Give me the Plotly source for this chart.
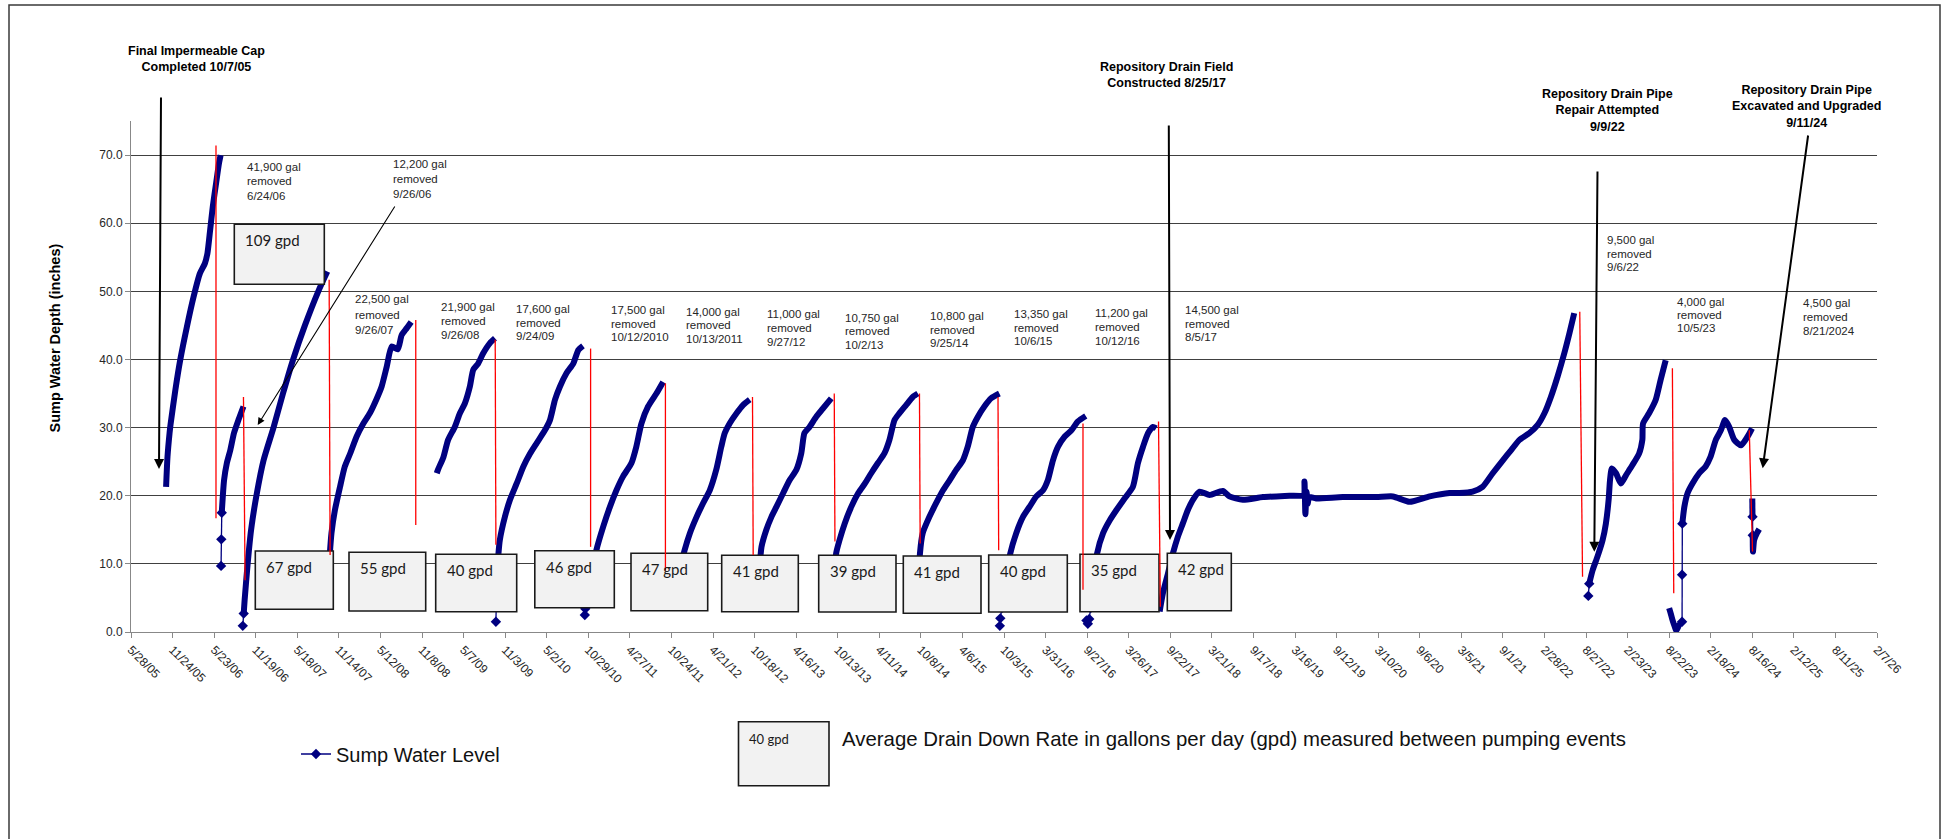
import pandas as pd
import plotly.graph_objects as go

NAVY = "#000080"
ARIAL = "Liberation Sans, Arial, sans-serif"

# ---------------- data ----------------
tick_labels = ["5/28/05", "11/24/05", "5/23/06", "11/19/06", "5/18/07", "11/14/07", "5/12/08",
               "11/8/08", "5/7/09", "11/3/09", "5/2/10", "10/29/10", "4/27/11", "10/24/11",
               "4/21/12", "10/18/12", "4/16/13", "10/13/13", "4/11/14", "10/8/14", "4/6/15",
               "10/3/15", "3/31/16", "9/27/16", "3/26/17", "9/22/17", "3/21/18", "9/17/18",
               "3/16/19", "9/12/19", "3/10/20", "9/6/20", "3/5/21", "9/1/21", "2/28/22",
               "8/27/22", "2/23/23", "8/22/23", "2/18/24", "8/16/24", "2/12/25", "8/11/25", "2/7/26"]

# continuous logger record, one block per fill cycle
c01_dates = ["2005-10-27", "2005-11-02", "2005-11-11", "2005-11-15", "2005-12-06", "2005-12-27",
             "2006-01-25", "2006-02-23", "2006-03-22", "2006-04-13", "2006-04-24", "2006-05-05",
             "2006-05-17", "2006-06-01", "2006-06-13", "2006-06-20"]
c01_vals = [21.3, 25.7, 29.2, 30.4, 35.5, 39.9, 44.8, 49.2, 52.6, 54.1, 55.6, 58.8, 62.4, 66.0, 68.8, 70.0]

c02_dates = ["2006-06-25", "2006-07-05", "2006-07-17", "2006-08-01", "2006-08-17", "2006-09-05", "2006-09-27"]
c02_vals = [17.5, 22.3, 24.8, 26.7, 29.2, 31.1, 33.1]

c03_dates = ["2006-09-28", "2006-10-02", "2006-10-15", "2006-10-30", "2006-11-22", "2006-12-23",
             "2007-02-04", "2007-03-17", "2007-04-30", "2007-06-20", "2007-08-17", "2007-09-25"]
c03_vals = [2.7, 4.7, 10.0, 15.0, 20.0, 25.2, 30.0, 35.0, 40.0, 45.0, 50.0, 52.9]

c04_dates = ["2007-10-06", "2007-10-13", "2007-10-28", "2007-11-19", "2007-12-10", "2008-01-02",
             "2008-01-30", "2008-02-28", "2008-03-27", "2008-04-24", "2008-05-17", "2008-06-08",
             "2008-06-30", "2008-07-26", "2008-08-12", "2008-09-03", "2008-09-22"]
c04_vals = [11.5, 14.5, 17.9, 21.3, 24.3, 26.2, 28.7, 30.6, 32.1, 34.1, 36.0, 38.9, 41.9, 41.5, 43.6, 44.6, 45.5]

c05_dates = ["2009-01-11", "2009-01-16", "2009-02-09", "2009-03-01", "2009-03-30", "2009-04-21",
             "2009-05-13", "2009-06-03", "2009-06-18", "2009-07-09", "2009-07-31", "2009-08-29", "2009-09-20"]
c05_vals = [23.3, 23.8, 25.7, 28.2, 30.1, 32.1, 33.6, 36.0, 38.5, 39.4, 40.9, 42.4, 43.1]

c06_dates = ["2009-09-28", "2009-10-05", "2009-10-11", "2009-11-02", "2009-11-24", "2009-12-23",
             "2010-01-21", "2010-02-19", "2010-03-19", "2010-04-24", "2010-05-16", "2010-06-07",
             "2010-06-28", "2010-07-27", "2010-08-25", "2010-09-16", "2010-10-06"]
c06_vals = [8.0, 11.5, 13.5, 16.9, 19.4, 21.8, 24.3, 26.2, 27.7, 29.6, 31.1, 34.1, 36.0, 38.0, 39.4, 41.4, 42.0]

c07_dates = ["2010-10-16", "2010-12-03", "2011-01-02", "2011-01-31", "2011-02-28", "2011-03-28",
             "2011-05-04", "2011-05-25", "2011-06-16", "2011-07-15", "2011-08-20", "2011-09-18"]
c07_vals = [3.4, 12.0, 15.5, 18.4, 20.8, 22.8, 24.8, 27.2, 30.6, 33.1, 35.0, 36.7]

c08_dates = ["2011-10-14", "2011-11-29", "2011-12-20", "2012-01-12", "2012-02-10", "2012-03-09",
             "2012-04-07", "2012-05-05", "2012-05-27", "2012-06-11", "2012-07-02", "2012-08-01",
             "2012-08-29", "2012-09-27"]
c08_vals = [4.0, 9.1, 12.0, 14.5, 16.9, 18.9, 20.8, 23.8, 27.2, 29.2, 30.6, 32.1, 33.3, 34.1]

c09_dates = ["2012-10-12", "2012-11-12", "2012-11-17", "2012-12-08", "2012-12-30", "2013-01-21",
             "2013-02-19", "2013-03-19", "2013-04-17", "2013-05-08", "2013-05-22", "2013-06-13",
             "2013-07-12", "2013-08-10", "2013-09-15"]
c09_vals = [4.5, 11.0, 12.5, 15.0, 16.9, 18.4, 20.4, 22.3, 23.8, 26.2, 29.2, 30.1, 31.6, 32.8, 34.3]

c10_dates = ["2013-10-01", "2013-10-06", "2013-10-21", "2013-11-12", "2013-12-11", "2014-01-10",
             "2014-02-08", "2014-03-07", "2014-04-05", "2014-05-03", "2014-05-25", "2014-06-16",
             "2014-07-07", "2014-08-05", "2014-09-03", "2014-09-25"]
c10_vals = [5.0, 11.5, 13.5, 15.9, 18.4, 20.4, 21.8, 23.3, 24.8, 26.2, 28.2, 31.1, 32.1, 33.3, 34.5, 35.0]

c11_dates = ["2014-09-27", "2014-10-04", "2014-10-16", "2014-11-14", "2014-12-13", "2015-01-12",
             "2015-02-10", "2015-03-10", "2015-04-08", "2015-04-29", "2015-05-21", "2015-06-12",
             "2015-07-10", "2015-08-08", "2015-09-13"]
c11_vals = [6.0, 11.5, 14.5, 16.9, 18.9, 20.8, 22.3, 23.8, 25.2, 27.2, 30.1, 31.6, 33.1, 34.3, 35.0]

c12_dates = ["2015-09-24", "2015-10-30", "2015-11-25", "2015-12-24", "2016-01-22", "2016-02-20",
             "2016-03-20", "2016-04-10", "2016-05-02", "2016-05-24", "2016-06-22", "2016-07-21",
             "2016-08-18", "2016-09-21"]
c12_vals = [3.5, 11.5, 14.5, 16.9, 18.4, 19.9, 20.8, 22.3, 25.2, 27.2, 28.7, 29.6, 30.9, 31.7]

c13_dates = ["2016-10-12", "2016-11-09", "2016-12-05", "2017-01-03", "2017-02-01", "2017-03-08",
             "2017-04-13", "2017-05-05", "2017-05-27", "2017-06-18", "2017-07-09", "2017-07-23"]
c13_vals = [3.5, 11.5, 14.5, 16.4, 17.9, 19.6, 21.3, 24.8, 27.2, 29.2, 30.1, 29.9]

c14_dates = ["2017-08-07", "2017-08-21", "2017-09-12", "2017-10-03", "2017-10-25", "2017-11-15",
             "2017-12-07", "2017-12-29", "2018-01-27", "2018-03-11", "2018-05-07", "2018-06-05",
             "2018-08-02", "2018-10-28", "2019-02-20", "2019-04-22", "2019-04-26", "2019-04-30",
             "2019-05-05", "2019-05-10", "2019-05-16", "2019-06-15", "2019-10-09", "2020-03-01",
             "2020-05-13", "2020-07-24", "2020-10-19", "2021-01-13", "2021-02-25", "2021-04-23",
             "2021-06-05", "2021-07-19", "2021-09-01", "2021-10-07", "2021-11-12", "2021-12-25",
             "2022-01-30", "2022-02-28", "2022-03-28", "2022-04-26", "2022-05-25", "2022-06-16",
             "2022-07-07"]
c14_vals = [3.0, 5.7, 8.6, 11.5, 14.0, 15.9, 17.9, 19.4, 20.6, 20.1, 20.7, 19.9, 19.4, 19.8, 20.0,
            20.1, 22.1, 17.3, 20.6, 18.8, 19.8, 19.6, 19.8, 19.8, 19.9, 19.1, 19.9, 20.4, 20.4, 20.6,
            21.3, 23.3, 25.2, 26.7, 28.2, 29.2, 30.4, 32.1, 34.5, 37.5, 40.9, 43.8, 46.8]

c15_dates = ["2022-09-10", "2022-09-25", "2022-10-16", "2022-11-07", "2022-11-21", "2022-12-03",
             "2022-12-09", "2022-12-17", "2023-01-04", "2023-01-25", "2023-02-16", "2023-03-16",
             "2023-04-14", "2023-04-28", "2023-05-01", "2023-05-27", "2023-06-25", "2023-07-16",
             "2023-08-07"]
c15_vals = [7.1, 9.1, 11.1, 13.5, 15.9, 19.4, 22.3, 24.0, 23.3, 21.8, 23.0, 24.5, 26.2, 28.2, 30.6,
            32.1, 34.1, 37.0, 39.9]

c16a_dates = ["2023-08-22", "2023-08-29", "2023-09-05", "2023-09-15", "2023-09-22", "2023-10-04", "2023-10-17"]
c16a_vals = [3.5, 2.7, 1.8, 0.8, 0.2, 1.0, 1.5]

c16b_dates = ["2023-10-18", "2023-10-27", "2023-11-10", "2023-12-01", "2023-12-30", "2024-01-27",
              "2024-02-17", "2024-03-11", "2024-04-02", "2024-04-20", "2024-05-08", "2024-05-30",
              "2024-06-28", "2024-07-27", "2024-08-15"]
c16b_vals = [15.9, 18.4, 20.4, 21.8, 23.3, 24.3, 25.7, 28.2, 29.6, 31.1, 30.1, 28.2, 27.4, 28.7, 29.9]

c17a_dates = ["2024-08-16", "2024-08-17"]
c17a_vals = [19.6, 16.9]

c17b_dates = ["2024-08-18", "2024-08-19", "2024-08-24", "2024-09-05", "2024-09-15"]
c17b_vals = [14.2, 11.8, 13.5, 14.5, 15.1]

# isolated readings taken around pumping events
s01_dates = ["2006-06-22", "2006-06-23", "2006-06-25"]
s01_vals = [9.7, 13.6, 17.5]
s02_dates = ["2006-09-24", "2006-09-28"]
s02_vals = [0.9, 2.7]
s03_dates = ["2009-09-24", "2009-09-28"]
s03_vals = [1.5, 8.0]
s04_dates = ["2010-10-14", "2010-10-16"]
s04_vals = [2.5, 3.4]
s05_dates = ["2015-09-15", "2015-09-17", "2015-09-24"]
s05_vals = [0.9, 2.0, 3.5]
s06_dates = ["2016-09-24", "2016-09-30", "2016-10-06", "2016-10-12"]
s06_vals = [1.7, 1.2, 1.9, 3.5]
s07_dates = ["2022-09-06", "2022-09-10"]
s07_vals = [5.3, 7.1]
s08_dates = ["2023-10-17", "2023-10-17", "2023-10-18"]
s08_vals = [1.5, 8.4, 15.9]
s09_dates = ["2024-08-17", "2024-08-18"]
s09_vals = [16.9, 14.2]

# pumping events (red drop lines)
pump_top_dates = ["2006-05-31", "2006-09-27", "2007-10-03", "2008-10-12", "2009-09-21", "2010-11-08",
                  "2011-09-28", "2012-10-09", "2013-09-28", "2014-10-02", "2015-09-07", "2016-09-09",
                  "2017-08-02", "2022-07-31", "2023-09-05", "2024-08-03"]
pump_top_vals = [71.4, 34.5, 51.7, 45.8, 42.9, 41.6, 36.5, 34.5, 35.0, 35.0, 34.5, 30.6, 30.9, 47.0, 38.7, 29.6]
pump_bot_dates = ["2006-05-31", "2006-10-04", "2007-10-07", "2008-10-12", "2009-09-24", "2010-11-08",
                  "2011-09-28", "2012-10-12", "2013-10-01", "2014-10-05", "2015-09-10", "2016-09-09",
                  "2017-08-10", "2022-08-12", "2023-09-11", "2024-08-17"]
pump_bot_vals = [16.7, 7.6, 11.3, 15.7, 12.8, 12.5, 9.0, 11.3, 13.3, 13.0, 12.0, 6.2, 3.7, 8.1, 5.7, 11.8]

# drain-down rates between pumping events
rate_labels = ["109 gpd", "67 gpd", "55 gpd", "40 gpd", "46 gpd", "47 gpd", "41 gpd",
               "39 gpd", "41 gpd", "40 gpd", "35 gpd", "42 gpd"]

# volumes removed at each pumping event
removal_notes = [("41,900 gal", "removed", "6/24/06"), ("12,200 gal", "removed", "9/26/06"),
                 ("22,500 gal", "removed", "9/26/07"), ("21,900 gal", "removed", "9/26/08"),
                 ("17,600 gal", "removed", "9/24/09"), ("17,500 gal", "removed", "10/12/2010"),
                 ("14,000 gal", "removed", "10/13/2011"), ("11,000 gal", "removed", "9/27/12"),
                 ("10,750 gal", "removed", "10/2/13"), ("10,800 gal", "removed", "9/25/14"),
                 ("13,350 gal", "removed", "10/6/15"), ("11,200 gal", "removed", "10/12/16"),
                 ("14,500 gal", "removed", "8/5/17"), ("9,500 gal", "removed", "9/6/22"),
                 ("4,000 gal", "removed", "10/5/23"), ("4,500 gal", "removed", "8/21/2024")]

# site milestones
milestones = [("Final Impermeable Cap", "Completed 10/7/05"),
              ("Repository Drain Field", "Constructed 8/25/17"),
              ("Repository Drain Pipe", "Repair Attempted", "9/9/22"),
              ("Repository Drain Pipe", "Excavated and Upgraded", "9/11/24")]

# ---------------- layout geometry (pixels) ----------------
W, H = 1948, 839
ML, MR, MT, MB = 131, 71, 121, 207
PW, PH = W - ML - MR, H - MT - MB


def px(x):
    return (x - ML) / PW


def py(y):
    return (H - MB - y) / PH


cycles = [(c01_dates, c01_vals), (c02_dates, c02_vals), (c03_dates, c03_vals), (c04_dates, c04_vals),
          (c05_dates, c05_vals), (c06_dates, c06_vals), (c07_dates, c07_vals), (c08_dates, c08_vals),
          (c09_dates, c09_vals), (c10_dates, c10_vals), (c11_dates, c11_vals), (c12_dates, c12_vals),
          (c13_dates, c13_vals), (c14_dates, c14_vals), (c15_dates, c15_vals), (c16a_dates, c16a_vals),
          (c16b_dates, c16b_vals), (c17a_dates, c17a_vals), (c17b_dates, c17b_vals)]
sparse = [(s01_dates, s01_vals), (s02_dates, s02_vals), (s03_dates, s03_vals), (s04_dates, s04_vals),
          (s05_dates, s05_vals), (s06_dates, s06_vals), (s07_dates, s07_vals), (s08_dates, s08_vals),
          (s09_dates, s09_vals)]


def join(blocks):
    xs, ys = [], []
    for d, v in blocks:
        xs += list(d) + [None]
        ys += list(v) + [None]
    return xs, ys


fig = go.Figure()

dx, dy = join(cycles)
fig.add_trace(go.Scatter(x=dx, y=dy, mode="lines", line=dict(color=NAVY, width=6, shape="spline", smoothing=0.6),
                         connectgaps=False, showlegend=False, hoverinfo="skip"))

sx, sy = join(sparse)
fig.add_trace(go.Scatter(x=sx, y=sy, mode="lines+markers", name="Sump Water Level",
                         line=dict(color=NAVY, width=1.3),
                         marker=dict(symbol="diamond", size=8, color=NAVY),
                         connectgaps=False, showlegend=True))

shapes = []
annotations = []

# drain-down rate boxes (left, top, right, bottom in px)
rate_boxes = [(234.3, 224.3, 324.3, 284.3), (255.3, 551, 333.3, 609.3), (349, 552.3, 425.7, 611),
              (435.7, 554.3, 516.7, 611.7), (534.8, 550.7, 614.3, 607.7), (631, 553.3, 707.7, 610.7),
              (721.7, 555.3, 798.3, 611.7), (818.7, 555.3, 896, 612), (903.3, 556, 981, 613.3),
              (988.7, 555, 1067.3, 612), (1080, 554.3, 1159, 611.7), (1167.3, 553.3, 1231.3, 610.7)]
for (l, t, r, b), lab in zip(rate_boxes, rate_labels):
    shapes.append(dict(type="rect", xref="paper", yref="paper", x0=px(l), x1=px(r), y0=py(b), y1=py(t),
                       fillcolor="#F2F2F2", line=dict(color="#1a1a1a", width=1.6), layer="above"))
    annotations.append(dict(x=px(l + 9), y=py(t + 16), xref="paper", yref="paper", text=lab,
                            showarrow=False, xanchor="left", yanchor="middle",
                            font=dict(family="Lato, sans-serif", size=15, color="#1a1a1a")))

# red pump-down lines drawn over the boxes
for xt, yt, xb, yb in zip(pump_top_dates, pump_top_vals, pump_bot_dates, pump_bot_vals):
    shapes.append(dict(type="line", xref="x", yref="y", x0=xt, y0=yt, x1=xb, y1=yb,
                       line=dict(color="#FF0000", width=1.3), layer="above"))

# legend box for rate annotation
shapes.append(dict(type="rect", xref="paper", yref="paper", x0=px(738.5), x1=px(829), y0=py(785.7),
                   y1=py(721.7), fillcolor="#F2F2F2", line=dict(color="#1a1a1a", width=1.6), layer="above"))
annotations.append(dict(x=px(747), y=py(739), xref="paper", yref="paper", text="40 gpd", showarrow=False,
                        xanchor="left", yanchor="middle",
                        font=dict(family="Lato, sans-serif", size=13, color="#1a1a1a")))
annotations.append(dict(x=px(840), y=py(739), xref="paper", yref="paper",
                        text="Average Drain Down Rate in gallons per day (gpd) measured between pumping events",
                        showarrow=False, xanchor="left", yanchor="middle",
                        font=dict(family=ARIAL, size=20.4, color="#111")))

# outer frame
shapes.append(dict(type="rect", xref="paper", yref="paper", x0=px(9), x1=px(1940), y0=py(900), y1=py(5),
                   line=dict(color="#3a3a3a", width=1.5), fillcolor="rgba(0,0,0,0)", layer="below"))

# removal notes: left px, first-line centre px, line step
note_pos = [(245, 166.7, 14.6), (391, 164, 15.0), (353.3, 299.3, 15.2), (439.3, 306.7, 14.2),
            (514.3, 309.3, 13.4), (609.3, 310, 13.7), (684, 311.7, 13.5), (765, 314.3, 13.7),
            (842.7, 317.7, 13.7), (928.3, 316, 13.7), (1011.7, 314, 13.7), (1093.3, 313.3, 13.7),
            (1182.7, 310, 13.5), (1605.3, 240, 13.7), (1675, 301.7, 13.3), (1800.7, 303.3, 13.7)]
for lines, (lx, ly, step) in zip(removal_notes, note_pos):
    for i, s in enumerate(lines):
        annotations.append(dict(x=px(lx), y=py(ly + i * step), xref="paper", yref="paper", text=s,
                                showarrow=False, xanchor="left", yanchor="middle",
                                font=dict(family=ARIAL, size=11.5, color="#262626")))

# milestone titles: centre px, vertical centre px of the whole block
milestone_pos = [(196.5, 58.8), (1166, 74.6), (1607.7, 110.2), (1806, 107.0)]
for lines, (cx, cy) in zip(milestones, milestone_pos):
    annotations.append(dict(x=px(cx), y=py(cy), xref="paper", yref="paper",
                            text="<br>".join("<b>%s</b>" % s for s in lines), showarrow=False,
                            xanchor="center", yanchor="middle", align="center",
                            font=dict(family=ARIAL, size=12.5, color="black")))

# milestone arrows: head (x, y), tail (x, y), width
arrows = [((159, 469), (161, 96), 2), ((257.7, 425), (395.7, 205), 1.1), ((1170, 540), (1168.8, 124), 2),
          ((1594.3, 551.7), (1597.5, 170), 2), ((1762.7, 468.3), (1808.3, 134), 2)]
for (hx, hy), (tx, ty), w in arrows:
    annotations.append(dict(x=px(hx), y=py(hy), xref="paper", yref="paper", ax=tx - hx, ay=ty - hy,
                            axref="pixel", ayref="pixel", text="", showarrow=True, arrowhead=2,
                            arrowsize=1.3 if w < 1.5 else 1.0, arrowwidth=w, arrowcolor="black", standoff=0))

# y-axis title
annotations.append(dict(x=px(54), y=py(338.5), xref="paper", yref="paper",
                        text="<b>Sump Water Depth (inches)</b>", textangle=-90, showarrow=False,
                        xanchor="center", yanchor="middle", font=dict(family=ARIAL, size=14.5, color="black")))

tick_vals = pd.to_datetime(tick_labels, format="%m/%d/%y")

fig.update_layout(
    width=W, height=H,
    margin=dict(l=ML, r=MR, t=MT, b=MB, pad=0),
    paper_bgcolor="white", plot_bgcolor="white",
    shapes=shapes, annotations=annotations,
    showlegend=True,
    legend=dict(x=px(296), y=py(754), xanchor="left", yanchor="middle", bgcolor="rgba(0,0,0,0)",
                borderwidth=0, font=dict(family=ARIAL, size=20, color="#111")),
    xaxis=dict(type="date", range=[tick_vals[0], tick_vals[-1]], tickvals=tick_vals, ticktext=tick_labels,
               tickangle=45, ticks="outside", ticklen=5, tickcolor="#888", showline=True, linecolor="#888",
               linewidth=1, showgrid=False, zeroline=False,
               tickfont=dict(family=ARIAL, size=12, color="#262626")),
    yaxis=dict(range=[0, 75], tick0=0, dtick=10, tickformat=".1f", ticks="outside", ticklen=5,
               tickcolor="#888", showline=True, linecolor="#888", linewidth=1, showgrid=True,
               gridcolor="#404040", gridwidth=1, zeroline=False,
               tickfont=dict(family=ARIAL, size=12, color="#262626")),
)

fig.write_html("out.html")
